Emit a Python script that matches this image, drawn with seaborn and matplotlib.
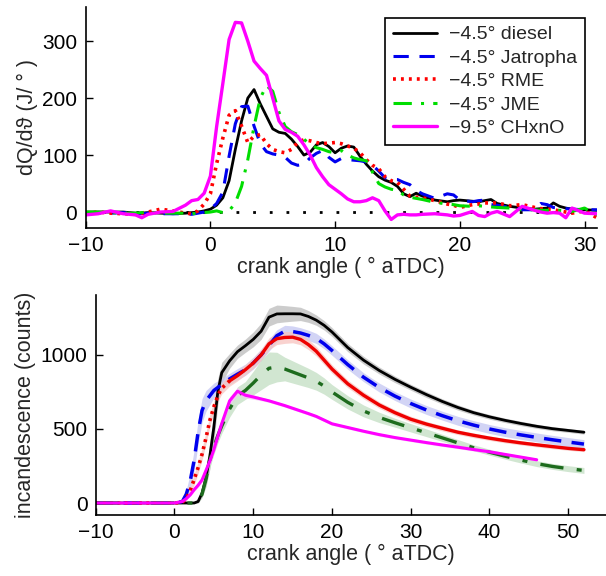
import numpy as np
import matplotlib
matplotlib.use("Agg")
import matplotlib.pyplot as plt
import seaborn as sns

# ---- heat release rate (top panel) ----
xt = [-10, -9, -8, -7, -6, -5.5, -5, -4, -3, -2,
      -1.5, -1, -0.5, 0, 0.5, 1, 1.5, 2, 2.5, 3,
      3.5, 4, 4.5, 5, 5.5, 6, 6.5, 7, 7.5, 8,
      8.5, 9, 9.5, 10, 10.5, 11, 11.5, 12, 12.5, 13,
      13.5, 14, 14.5, 15, 15.5, 16, 16.5, 17, 18, 19,
      19.5, 20, 21, 21.5, 22, 22.5, 23, 24, 25, 26,
      26.5, 27, 27.5, 28, 28.5, 29, 30, 31]

hrr_diesel = [0, 0, 0, 0, -2, -2, -1, -2, -3, -2,
              -1, 0, 2, 5, 12, 25, 55, 110, 160, 200,
              215, 190, 168, 146, 140, 138, 128, 115, 100, 105,
              118, 122, 115, 104, 112, 116, 114, 98, 84, 72,
              62, 56, 52, 45, 32, 27, 33, 28, 21, 18,
              20, 21, 19, 18, 20, 22, 15, 10, 7, 5,
              6, 7, 16, 10, 7, 5, 4, 3]
hrr_jatropha = [-2, -2, -2, -1, -3, -3, -2, -3, -3, -3,
                -4, -2, 0, 5, 15, 35, 98, 155, 185, 186,
                151, 120, 106, 102, 100, 96, 86, 82, 84, 95,
                103, 108, 96, 88, 94, 92, 91, 90, 88, 82,
                72, 60, 57, 57, 52, 48, 38, 32, 24, 32,
                30, 21, 18, 20, 21, 13, 12, 8, 4, 4,
                15, 13, 8, 7, 6, 5, 4, 4]
hrr_rme = [-2, 0, -2, -3, -4, -2, 0, 5, 2, -2,
           -3, 2, 14, 32, 85, 130, 170, 178, 151, 122,
           133, 136, 120, 110, 106, 104, 110, 122, 127, 125,
           122, 120, 121, 122, 120, 116, 112, 104, 92, 82,
           76, 62, 55, 52, 40, 28, 26, 25, 20, 14,
           12, 8, 13, 14, 16, 16, 16, 11, 13, 8,
           6, 5, 4, 2, 0, -2, 2, -10]
hrr_jme = [0, 0, -1, -2, -2, -1, 0, -2, -2, -2,
           -3, -2, -1, 0, 2, -1, 2, 16, 45, 92,
           150, 200, 222, 212, 175, 150, 141, 136, 128, 118,
           113, 110, 106, 104, 108, 100, 95, 92, 90, 70,
           50, 44, 40, 38, 30, 26, 24, 22, 17, 14,
           13, 11, 10, 11, 10, 9, 8, 7, 4, 4,
           3, 3, 3, 3, 2, 1, 7, -5]
hrr_chxno = [-5, -3, 2, -3, -5, -10, -4, 0, 1, 12,
             20, 22, 33, 63, 150, 226, 303, 333, 332, 300,
             265, 252, 240, 200, 160, 145, 140, 133, 118, 100,
             78, 62, 48, 40, 32, 23, 18, 18, 20, 25,
             20, 2, -13, -5, -4, -5, -5, -4, -3, -5,
             -7, -6, 1, -6, -8, -2, 1, -8, 10, 3,
             0, -2, -1, -2, -10, 7, -2, -3]

# ---- incandescence (bottom panel) ----
xb = [-10, 0, 1, 1.5, 2, 2.5, 3, 3.5, 4, 4.5,
      5, 5.5, 6, 7, 8, 9, 10, 11, 12, 13,
      14, 15, 16, 17, 18, 19, 20, 22, 24, 26,
      28, 30, 32, 34, 36, 38, 40, 42, 44, 46,
      48, 50, 52]

inc_diesel = [0, 0, 0, 0, 0, 0, 10, 67, 170, 320,
              513, 750, 880, 960, 1022, 1062, 1105, 1160, 1255, 1277,
              1278, 1278, 1277, 1260, 1235, 1200, 1155, 1050, 965, 895,
              835, 782, 732, 686, 645, 610, 582, 558, 537, 518,
              502, 490, 478]
inc_jatropha = [0, 0, 10, 60, 150, 290, 480, 625, 690, 725,
                760, 780, 800, 838, 870, 900, 945, 1000, 1065, 1130,
                1160, 1158, 1148, 1132, 1112, 1075, 1030, 935, 850, 780,
                722, 672, 628, 590, 555, 526, 500, 478, 460, 443,
                427, 412, 398]
inc_rme = [0, 0, 5, 30, 85, 160, 240, 330, 440, 560,
           650, 725, 775, 825, 860, 900, 945, 1000, 1075, 1110,
           1118, 1120, 1105, 1070, 1025, 965, 905, 805, 728, 662,
           610, 566, 533, 505, 478, 457, 438, 421, 406, 393,
           381, 369, 360]
inc_jme = [0, 0, 0, 0, 0, 0, 0, 60, 160, 290,
           380, 455, 520, 635, 725, 760, 810, 865, 910, 918,
           905, 885, 865, 845, 822, 790, 750, 680, 622, 578,
           542, 508, 474, 440, 406, 373, 343, 316, 290, 266,
           247, 232, 220]
inc_chxno = [0, 0, 10, 30, 55, 90, 120, 156, 220, 285,
             360, 450, 536, 690, 755, 728, 716, 703, 690, 674,
             658, 640, 622, 604, 585, 560, 535, 510, 485, 462,
             442, 425, 408, 392, 377, 361, 346, 328, 310, 292,
             np.nan, np.nan, np.nan]

# band half-widths (shaded spread around each incandescence curve)
sd_diesel = [0, 0, 0, 0, 0, 0, 10, 30, 60, 90,
             100, 90, 70, 50, 45, 45, 50, 55, 60, 60,
             55, 50, 45, 40, 35, 32, 30, 28, 26, 24,
             22, 20, 20, 18, 18, 16, 16, 15, 15, 14,
             14, 13, 13]
sd_jatropha = [0, 0, 10, 30, 50, 70, 80, 80, 70, 60,
               50, 45, 40, 38, 38, 38, 40, 40, 40, 40,
               40, 38, 36, 35, 34, 33, 32, 32, 30, 30,
               30, 30, 30, 30, 30, 30, 30, 30, 30, 30,
               30, 30, 30]
sd_rme = [0, 0, 5, 15, 25, 35, 40, 40, 40, 40,
          40, 40, 38, 36, 35, 35, 35, 38, 40, 40,
          40, 38, 36, 34, 32, 30, 28, 26, 24, 22,
          20, 20, 18, 18, 16, 16, 15, 15, 14, 14,
          14, 13, 13]
sd_jme = [0, 0, 0, 0, 0, 0, 0, 20, 40, 50,
          50, 50, 50, 55, 60, 60, 80, 100, 110, 100,
          80, 75, 70, 65, 60, 55, 50, 45, 40, 35,
          30, 28, 26, 24, 22, 20, 20, 20, 20, 20,
          20, 20, 20]
sd_chxno = [0, 0, 5, 8, 10, 12, 14, 16, 18, 20,
            22, 24, 26, 28, 25, 20, 15, 12, 10, 10,
            10, 10, 10, 10, 10, 10, 10, 10, 10, 10,
            10, 10, 10, 10, 10, 10, 10, 10, 10, 10,
            np.nan, np.nan, np.nan]

labels = ["\u22124.5\u00b0 diesel", "\u22124.5\u00b0 Jatropha", "\u22124.5\u00b0 RME",
          "\u22124.5\u00b0 JME", "\u22129.5\u00b0 CHxnO"]

sns.set_theme(style="ticks")
plt.rcParams["font.family"] = ["Liberation Sans", "DejaVu Sans"]
plt.rcParams.update({
    "xtick.direction": "in", "ytick.direction": "in",
    "xtick.major.size": 5, "ytick.major.size": 5,
    "xtick.major.width": 1, "ytick.major.width": 1,
    "axes.linewidth": 1.2, "axes.edgecolor": "black",
    "xtick.color": "black", "ytick.color": "black",
    "font.size": 15, "xtick.labelsize": 15, "ytick.labelsize": 15,
    "axes.labelsize": 15.5, "legend.fontsize": 14,
})

fig = plt.figure(figsize=(6.06, 5.76), dpi=100)
ax1 = fig.add_axes([0.1414, 0.6042, 0.8437, 0.3837])
ax2 = fig.add_axes([0.158, 0.1059, 0.842, 0.382])

# top panel
ax1.axhline(0, color="black", ls=(0, (1, 5)), lw=2, zorder=1)
sns.lineplot(x=xt, y=hrr_diesel, ax=ax1, color="black", lw=2, label=labels[0])
sns.lineplot(x=xt, y=hrr_jatropha, ax=ax1, color="#0000ee", lw=2.2,
             linestyle=(0, (5, 3.5)), label=labels[1])
sns.lineplot(x=xt, y=hrr_rme, ax=ax1, color="#ff0000", lw=2.6,
             linestyle=(0, (0.8, 1.4)), label=labels[2])
sns.lineplot(x=xt, y=hrr_jme, ax=ax1, color="#00dd00", lw=2.2,
             linestyle=(0, (6, 3, 1, 3)), label=labels[3])
sns.lineplot(x=xt, y=hrr_chxno, ax=ax1, color="#ff00ff", lw=2.4, label=labels[4])

ax1.set_xlim(-10, 31)
ax1.set_ylim(-28, 360)
ax1.set_xticks([-10, 0, 10, 20, 30])
ax1.set_yticks([0, 100, 200, 300])
ax1.set_xlabel("crank angle ( \u00b0 aTDC)", labelpad=1)
ax1.set_ylabel("dQ/d\u03d1 (J/ \u00b0 )", labelpad=3)
ax1.tick_params(pad=6)
sns.despine(ax=ax1)
leg = ax1.legend(loc="upper right", bbox_to_anchor=(585 / 606, 1 - 18 / 576),
                 bbox_transform=fig.transFigure, borderaxespad=0,
                 fancybox=False, framealpha=1, edgecolor="black",
                 handlelength=2.3, handletextpad=0.6, labelspacing=0.3,
                 borderpad=0.4)
leg.get_frame().set_linewidth(1.2)

# bottom panel
curves = [
    (inc_diesel, sd_diesel, "black", "#bcbcbc", "-", 2.0),
    (inc_jatropha, sd_jatropha, "#0000ee", "#c4c6f2", (0, (5, 3)), 2.5),
    (inc_rme, sd_rme, "#ee0000", "#f7c4c0", "-", 2.4),
    (inc_jme, sd_jme, "#1d6b1d", "#c2dec2", (0, (7, 4, 1.5, 4)), 2.4),
    (inc_chxno, sd_chxno, "#ff00ff", "#f6c0f6", "-", 2.2),
]
xb_arr = np.array(xb)
for y, sd, col, band, ls, lw in curves:
    y = np.array(y, dtype=float)
    sd = np.array(sd, dtype=float)
    ok = ~np.isnan(y)
    ax2.fill_between(xb_arr[ok], (y - sd)[ok], (y + sd)[ok], color=band,
                     alpha=0.75, lw=0, zorder=1)

for i, (y, sd, col, band, ls, lw) in enumerate(curves):
    if i == 2:
        # the rising part of the RME trace appears dotted, the rest solid
        sns.lineplot(x=xb[:14], y=y[:14], ax=ax2, color=col, lw=2.6,
                     linestyle=(0, (0.8, 1.2)), legend=False)
        sns.lineplot(x=xb[13:], y=y[13:], ax=ax2, color=col, lw=lw, legend=False)
    else:
        sns.lineplot(x=xb, y=y, ax=ax2, color=col, lw=lw, linestyle=ls, legend=False)

ax2.set_xlim(-10, 54.8)
ax2.set_ylim(-81, 1405)
ax2.set_xticks([-10, 0, 10, 20, 30, 40, 50])
ax2.set_yticks([0, 500, 1000])
ax2.set_xlabel("crank angle ( \u00b0 aTDC)", labelpad=1)
ax2.set_ylabel("incandescence (counts)", labelpad=3)
ax2.tick_params(pad=6)
sns.despine(ax=ax2)

fig.savefig("out.png", dpi=100)
